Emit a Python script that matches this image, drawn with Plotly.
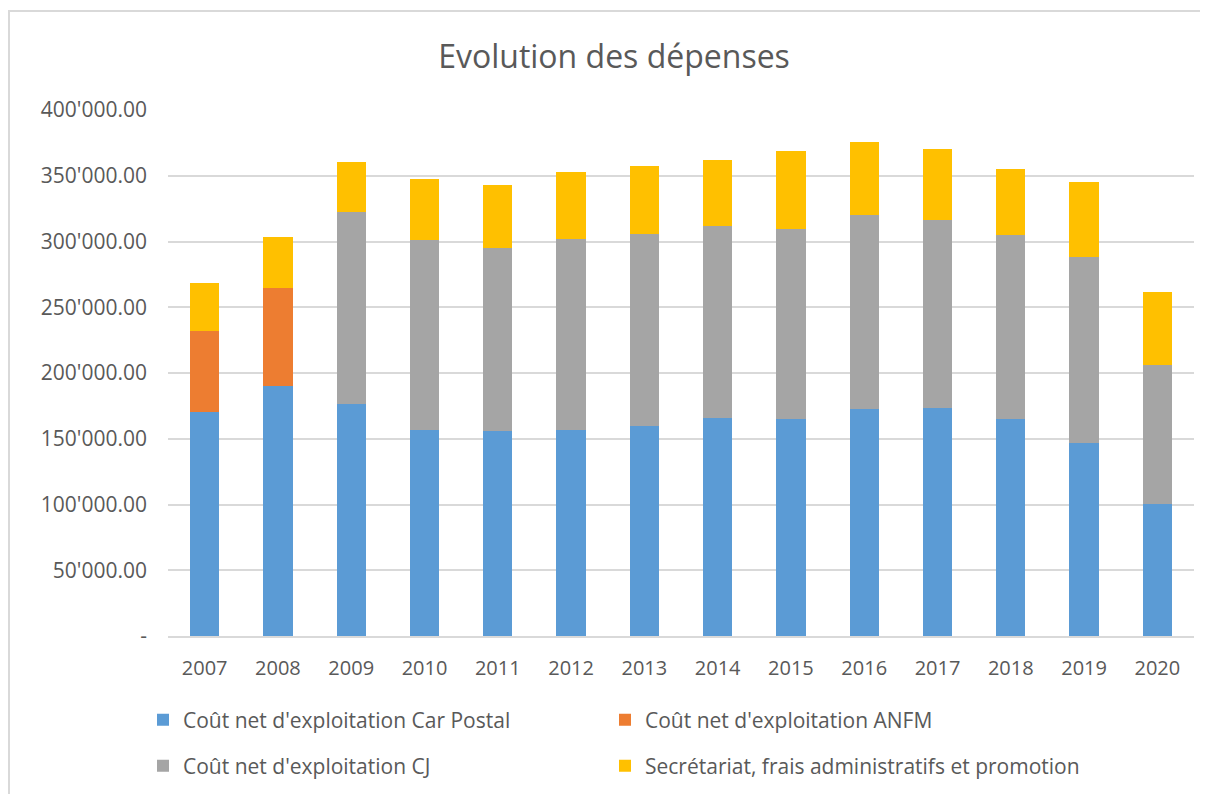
import plotly.graph_objects as go

years = ["2007", "2008", "2009", "2010", "2011", "2012", "2013", "2014", "2015", "2016", "2017", "2018", "2019", "2020"]
car_postal = [170500, 189800, 176400, 156900, 155900, 156900, 159900, 165700, 164700, 172600, 173300, 164700, 147000, 100400]
anfm = [61300, 75000, None, None, None, None, None, None, None, None, None, None, None, None]
cj = [None, None, 146100, 144100, 139200, 145100, 145900, 145900, 144900, 147600, 143100, 140100, 141300, 105900]
secretariat = [36900, 39000, 37700, 46300, 47700, 51100, 51400, 50400, 59200, 55500, 54200, 50400, 57200, 55400]

tick_vals = [0, 50000, 100000, 150000, 200000, 250000, 300000, 350000, 400000]
tick_text = ["-", "50'000.00", "100'000.00", "150'000.00", "200'000.00", "250'000.00", "300'000.00", "350'000.00", "400'000.00"]

names = ["Coût net d'exploitation Car Postal", "Coût net d'exploitation ANFM",
         "Coût net d'exploitation CJ", "Secrétariat, frais administratifs et promotion"]
colors = ["#5B9BD5", "#ED7D31", "#A5A5A5", "#FFC000"]
series = [car_postal, anfm, cj, secretariat]
legends = ["legend", "legend2", "legend3", "legend4"]

FONT = "Open Sans"
TXT = "#595959"

fig = go.Figure()
for name, col, vals, lg in zip(names, colors, series, legends):
    fig.add_trace(go.Bar(x=years, y=vals, name=name, marker_color=col,
                         marker_line_width=0, legend=lg))

# page has an 8px body margin: work in page coordinates and subtract it
OFF = 8
W, H = 1208, 794
ml, mr, mt, mb = 160, 22, 102, 166
pw, ph = W - ml - mr, H - mt - mb

def px(x):
    return (x - OFF - ml) / pw

def py(y):
    return (H - mb - (y - OFF)) / ph

def leg(x, y):
    return dict(x=px(x), xanchor="left", y=py(y), yanchor="middle",
                font=dict(size=21, color=TXT), itemclick=False,
                bgcolor="rgba(0,0,0,0)")

fig.update_layout(
    width=W, height=H,
    margin=dict(l=ml, r=mr, t=mt, b=mb),
    barmode="stack", bargap=0.6,
    paper_bgcolor="white", plot_bgcolor="white",
    font=dict(family=FONT, color=TXT, size=21),
    title=dict(text="Evolution des dépenses", x=(614 - OFF) / W, xanchor="center",
               y=1 - (57 - OFF) / H, yanchor="middle",
               font=dict(size=32, color=TXT, family=FONT)),
    xaxis=dict(showgrid=False, showline=True, linecolor="#D9D9D9", linewidth=1.5,
               ticks="", tickfont=dict(size=20, color=TXT), ticklabelstandoff=13),
    yaxis=dict(range=[0, 400000], tickvals=tick_vals, ticktext=tick_text,
               showgrid=True, gridcolor="#D9D9D9", gridwidth=1.5, zeroline=False,
               showline=False, ticks="", tickfont=dict(size=21, color=TXT),
               ticklabelstandoff=20),
    legend=leg(143, 720),
    legend2=leg(605, 720),
    legend3=leg(143, 766),
    legend4=leg(605, 766),
    shapes=[dict(type="rect", xref="paper", yref="paper",
                 x0=px(9), x1=px(1260), y0=py(860), y1=py(11),
                 line=dict(color="#D9D9D9", width=2), fillcolor="rgba(0,0,0,0)")],
    showlegend=True,
)

fig.write_html("out.html")
